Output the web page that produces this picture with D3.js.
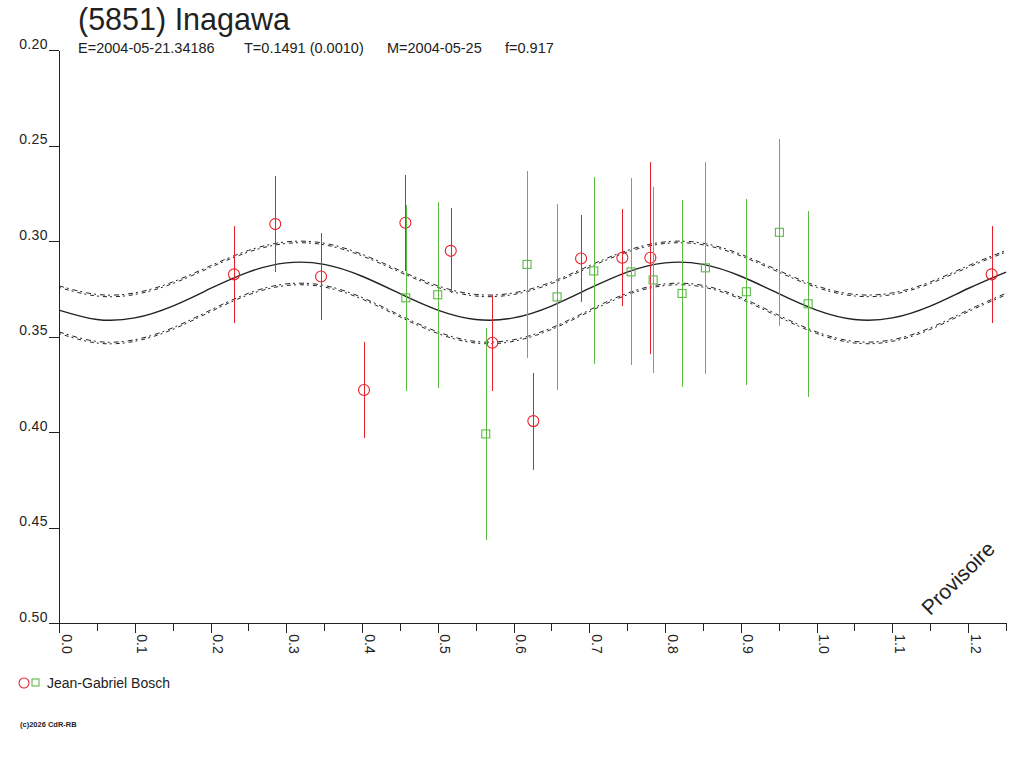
<!DOCTYPE html>
<html>
<head>
<meta charset="utf-8">
<title>(5851) Inagawa</title>
<script src="https://cdn.jsdelivr.net/npm/d3@7"></script>
<style>
	body { margin: 0; background: #fff; }
	svg { display: block; font-family: "Liberation Sans", Arial, sans-serif; }
	.axis path, .axis line { stroke: #222; shape-rendering: crispEdges; }
	.axis text { fill: #222; font-size: 14px; }
</style>
</head>
<body>
<svg id="chart" width="1024" height="768"></svg>
<script>
// tick values and labels
var xTicks = [0, 0.1, 0.2, 0.3, 0.4, 0.5, 0.6, 0.7, 0.8, 0.9, 1.0, 1.1, 1.2];
var xTickLabels = ["0.0", "0.1", "0.2", "0.3", "0.4", "0.5", "0.6", "0.7", "0.8", "0.9", "1.0", "1.1", "1.2"];
var xMinorTicks = [0.05, 0.15, 0.25, 0.35, 0.45, 0.55, 0.65, 0.75, 0.85, 0.95, 1.05, 1.15, 1.25];
var yTicks = [0.20, 0.25, 0.30, 0.35, 0.40, 0.45, 0.50];
var yTickLabels = ["0.20", "0.25", "0.30", "0.35", "0.40", "0.45", "0.50"];

// header fields
var headerFields = ["E=2004-05-21.34186", "T=0.1491 (0.0010)", "M=2004-05-25", "f=0.917"];

// fitted lightcurve, read every 0.05 in phase
var fitPhase = [0, 0.05, 0.10, 0.15, 0.20, 0.25, 0.30, 0.35, 0.40, 0.45, 0.50, 0.55, 0.60,
	0.65, 0.70, 0.75, 0.80, 0.85, 0.90, 0.95, 1.00, 1.05, 1.10, 1.15, 1.20, 1.25];
var fitMag = [0.3361, 0.3410, 0.3402, 0.3340, 0.3248, 0.3162, 0.3114, 0.3122, 0.3184, 0.3275,
	0.3361, 0.3410, 0.3402, 0.3340, 0.3248, 0.3162, 0.3114, 0.3122, 0.3184, 0.3275,
	0.3361, 0.3410, 0.3402, 0.3340, 0.3248, 0.3162];
var fitUpper = [0.3234, 0.3279, 0.3271, 0.3214, 0.3129, 0.3049, 0.3004, 0.3011, 0.3069, 0.3154,
	0.3234, 0.3279, 0.3271, 0.3214, 0.3129, 0.3049, 0.3004, 0.3011, 0.3069, 0.3154,
	0.3234, 0.3279, 0.3271, 0.3214, 0.3129, 0.3049];
var fitLower = [0.3475, 0.3525, 0.3516, 0.3454, 0.3361, 0.3273, 0.3224, 0.3232, 0.3295, 0.3388,
	0.3475, 0.3525, 0.3516, 0.3454, 0.3361, 0.3273, 0.3224, 0.3232, 0.3295, 0.3388,
	0.3475, 0.3525, 0.3516, 0.3454, 0.3361, 0.3273];

// observations (circles, red)
var redPhase = [0.2310, 0.2855, 0.3459, 0.4026, 0.4572, 0.5171, 0.5720, 0.6261, 0.6891, 0.7436, 0.7806];
var redMag = [0.3174, 0.2911, 0.3185, 0.3779, 0.2904, 0.3051, 0.3532, 0.3942, 0.3091, 0.3087, 0.3087];
var redErr = [0.0253, 0.0253, 0.0227, 0.0253, 0.0250, 0.0223, 0.0251, 0.0254, 0.0227, 0.0253, 0.0503];

// observations (squares, green)
var greenPhase = [0.4577, 0.4999, 0.5633, 0.6178, 0.6574, 0.7059, 0.7551, 0.7842, 0.8224, 0.8532, 0.9073, 0.9509, 0.9888];
var greenMag = [0.3297, 0.3281, 0.4009, 0.3122, 0.3292, 0.3156, 0.3161, 0.3203, 0.3274, 0.3140, 0.3265, 0.2954, 0.3328];
var greenErr = [0.0487, 0.0487, 0.0555, 0.0489, 0.0487, 0.0489, 0.0489, 0.0487, 0.0489, 0.0554, 0.0487, 0.0489, 0.0487];

var red = "#e8202a";
var green = "#5cb946";
var ink = "#222";

var svg = d3.select("#chart");
svg.append("rect").attr("width", 1024).attr("height", 768).attr("fill", "#fff");

var x = d3.scaleLinear().domain([0, 1.25]).range([59, 1006]);
var y = d3.scaleLinear().domain([0.20, 0.50]).range([50, 623.3]);

drawAxes();
drawFit();
drawPoints(redPhase, redMag, redErr, red, "circle");
drawPoints(greenPhase, greenMag, greenErr, green, "square");
drawText();

function drawAxes() {
	// minor x ticks first, so the major ones sit on top
	svg.append("g")
		.attr("class", "axis")
		.attr("transform", "translate(0," + y(0.50) + ")")
		.call(d3.axisBottom(x).tickValues(xMinorTicks).tickSize(8).tickSizeOuter(0).tickFormat(""))
		.select(".domain").remove();

	var xAxis = svg.append("g")
		.attr("class", "axis")
		.attr("transform", "translate(0," + y(0.50) + ")")
		.call(d3.axisBottom(x)
			.tickValues(xTicks)
			.tickSize(10)
			.tickSizeOuter(0)
			.tickFormat(function(d, i) { return xTickLabels[i]; }));
	xAxis.select(".domain").attr("d", "M49,0.5H1006.5");
	xAxis.selectAll("text")
		.attr("x", 0)
		.attr("y", 0)
		.attr("dy", null)
		.attr("transform", "translate(2,11) rotate(90)")
		.style("text-anchor", "start");

	var yAxis = svg.append("g")
		.attr("class", "axis")
		.attr("transform", "translate(59,0)")
		.call(d3.axisLeft(y)
			.tickValues(yTicks)
			.tickSize(10)
			.tickSizeOuter(0)
			.tickFormat(function(d, i) { return yTickLabels[i]; }));
	yAxis.selectAll("text")
		.attr("x", -11)
		.attr("dy", "-2")
		.attr("y", 0)
		.style("text-anchor", "end")
		.attr("letter-spacing", "0.4px");
}

function drawFit() {
	var pts = function(vals) {
		return fitPhase.map(function(p, i) { return [p, vals[i]]; });
	};
	var line = d3.line()
		.x(function(d) { return x(d[0]); })
		.y(function(d) { return y(d[1]); })
		.curve(d3.curveNatural);

	// the envelopes are drawn as two close, broken lines
	[fitUpper, fitLower].forEach(function(vals) {
		svg.append("path")
			.attr("d", line(pts(vals)))
			.attr("fill", "none")
			.attr("stroke", ink)
			.attr("stroke-width", 1)
			.attr("stroke-dasharray", "5,3,2,4");
		svg.append("path")
			.attr("d", line(pts(vals)))
			.attr("transform", "translate(0,1.6)")
			.attr("fill", "none")
			.attr("stroke", ink)
			.attr("stroke-width", 1)
			.attr("stroke-dasharray", "2,4,4,3");
	});

	svg.append("path")
		.attr("d", line(pts(fitMag)))
		.attr("fill", "none")
		.attr("stroke", ink)
		.attr("stroke-width", 1.4);
}

// points are folded on phase, anything below 0.25 is repeated one cycle later
function drawPoints(phase, mag, err, color, shape) {
	var data = [];
	phase.forEach(function(p, i) {
		data.push({ p: p, m: mag[i], e: err[i] });
		if (p + 1 <= 1.25) data.push({ p: p + 1, m: mag[i], e: err[i] });
	});

	var g = svg.append("g");
	g.selectAll("line")
		.data(data)
		.enter()
		.append("line")
			.attr("x1", function(d) { return Math.round(x(d.p)) + 0.5; })
			.attr("x2", function(d) { return Math.round(x(d.p)) + 0.5; })
			.attr("y1", function(d) { return y(d.m - d.e); })
			.attr("y2", function(d) { return y(d.m + d.e); })
			.attr("stroke", color)
			.attr("stroke-width", 1)
			.attr("shape-rendering", "crispEdges");

	if (shape == "circle") {
		g.selectAll("circle")
			.data(data)
			.enter()
			.append("circle")
				.attr("cx", function(d) { return x(d.p); })
				.attr("cy", function(d) { return y(d.m); })
				.attr("r", 5.5)
				.attr("fill", "none")
				.attr("stroke", color)
				.attr("stroke-width", 1.1);
	}
	else {
		g.selectAll("rect")
			.data(data)
			.enter()
			.append("rect")
				.attr("x", function(d) { return x(d.p) - 4; })
				.attr("y", function(d) { return y(d.m) - 4; })
				.attr("width", 8)
				.attr("height", 8)
				.attr("fill", "none")
				.attr("stroke", color)
				.attr("stroke-width", 1.1);
	}
}

function drawText() {
	svg.append("text")
		.attr("x", 78)
		.attr("y", 30)
		.attr("font-size", 30.5)
		.attr("fill", ink)
		.text("(5851) Inagawa");

	// header line, each field at its own place
	var fieldX = [78, 244, 387, 505];
	svg.append("text")
		.attr("y", 53)
		.attr("font-size", 14.5)
		.attr("fill", ink)
		.selectAll("tspan")
		.data(headerFields)
		.enter()
		.append("tspan")
			.attr("x", function(d, i) { return fieldX[i]; })
			.text(function(d) { return d; });

	svg.append("text")
		.attr("transform", "translate(958,578) rotate(-45)")
		.attr("font-size", 21)
		.attr("fill", ink)
		.style("text-anchor", "middle")
		.attr("dy", "0.35em")
		.text("Provisoire");

	// legend
	svg.append("circle")
		.attr("cx", 24).attr("cy", 683).attr("r", 5)
		.attr("fill", "none").attr("stroke", red).attr("stroke-width", 1.1);
	svg.append("rect")
		.attr("x", 32).attr("y", 679).attr("width", 7).attr("height", 7)
		.attr("fill", "none").attr("stroke", green).attr("stroke-width", 1.1);
	svg.append("text")
		.attr("x", 47)
		.attr("y", 688)
		.attr("font-size", 14)
		.attr("fill", ink)
		.text("Jean-Gabriel Bosch");

	svg.append("text")
		.attr("x", 20)
		.attr("y", 727)
		.attr("font-size", 7.5)
		.attr("font-weight", "bold")
		.attr("fill", ink)
		.text("(c)2026 CdR-RB");
}
</script>
</body>
</html>
